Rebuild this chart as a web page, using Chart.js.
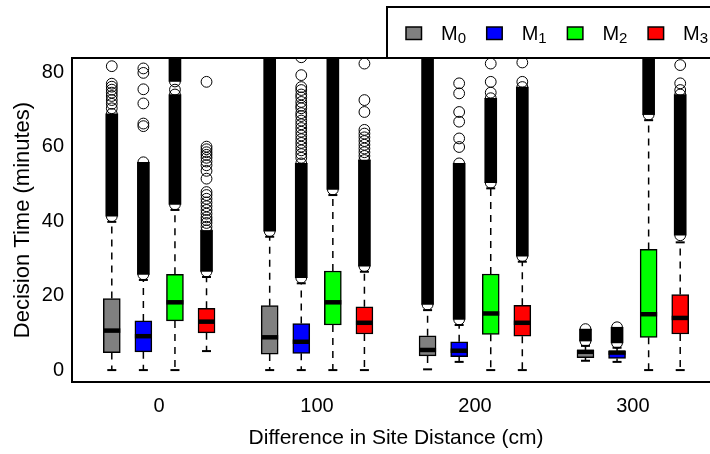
<!DOCTYPE html>
<html>
<head>
<meta charset="utf-8">
<script src="https://cdn.jsdelivr.net/npm/chart.js@4.4.1/dist/chart.umd.min.js"></script>
<style>
  html, body { margin: 0; padding: 0; overflow: hidden; background: #fff; }
  canvas { display: block; }
</style>
</head>
<body>
<canvas id="boxChart" width="730" height="454"></canvas>
<script>
// decision time by site distance difference, one box per model
const groups = ['0', '100', '200', '300'];
const series = ['M0', 'M1', 'M2', 'M3'];
const yTicks = [0, 20, 40, 60, 80];

// [series][group]
const lowWhisker = [[0, 0, 0.2, 2.5], [0, 0, 2.2, 2.2], [0, 0, 0, 0], [5.1, 0, 0, 0]];
const q1 = [[4.7, 4.3, 3.8, 3.3], [4.9, 4.5, 3.6, 3.1], [13.2, 12.1, 9.6, 8.8], [10.0, 9.7, 9.1, 9.7]];
const median = [[10.6, 8.8, 5.4, 4.9], [9.1, 7.6, 5.2, 4.7], [18.2, 18.2, 15.2, 15.0], [13.0, 12.7, 12.7, 14.0]];
const q3 = [[19.2, 17.3, 9.2, 5.4], [13.2, 12.5, 7.6, 5.1], [25.7, 26.6, 25.8, 32.4], [16.6, 17.0, 17.4, 20.3]];
const highWhisker = [[39.8, 35.8, 16.1, 6.5], [24.2, 23.3, 12.1, 6.0], [43.0, 47.0, 48.8, 67.1], [25.0, 26.4, 29.1, 34.3]];

// stretches where the outlier circles pile up into a solid column [from, to]
const denseRuns = [
  [[[41.3, 68.8]], [[37.3, 84]], [[17.6, 84]], [[7.8, 11]]],
  [[[25.7, 55.8]], [[24.8, 55.5]], [[13.6, 55.5]], [[7.3, 11.5]]],
  [[[44.5, 74], [77.5, 84]], [[48.5, 84]], [[50.3, 73]], [[68.6, 84]]],
  [[[26.5, 37.5]], [[27.9, 56.4]], [[30.6, 76]], [[36.2, 74]]]
];

// single outliers outside the solid columns
const outliers = [
  [[70.3, 71.5, 72.5, 73.6, 74.5, 75.3, 76.1, 76.9, 81.6], [], [], []],
  [[65.5, 66.2, 71.6, 75.4, 79.8, 81.0],
   [57, 58, 59, 60, 61, 62, 63, 64, 65, 66, 67, 68.2, 69, 70.3, 71, 72, 73.2, 74, 75.2, 76, 79.2, 84],
   [59.9, 62.2, 66.7, 69.3, 74.3, 77.0], []],
  [[75.3], [], [74.5, 77.4, 82.3], []],
  [[38.5, 39.5, 40.3, 41, 42, 43, 44, 45, 46, 47, 47.8, 51.4, 53.5, 55, 56, 57, 57.8, 58.5, 59.3, 60, 77.4],
   [57.5, 58.5, 59.5, 60.5, 61.5, 62.5, 63.5, 64.5, 69.3, 72.5, 82.3],
   [77.4, 82.6],
   [75.2, 77, 81.9]]
];

const fills = ['#808080', '#0000ff', '#00ff00', '#ff0000'];
const FONT = "'Liberation Sans', Arial, sans-serif";
Chart.defaults.font.family = FONT;
Chart.defaults.color = '#000';

// box position on the x axis: 4 boxes per group, one empty slot between groups
const slot = (s, g) => 1 + g * 5 + s;

const boxSets = series.map((name, s) => ({
  type: 'bar',
  label: name,
  data: groups.map((g, gi) => ({ x: slot(s, gi), y: [q1[s][gi], q3[s][gi]] })),
  backgroundColor: fills[s],
  borderColor: '#000',
  borderWidth: 1.5,
  borderSkipped: false,
  barThickness: 17,
  grouped: false,
  order: 2,
  clip: 0
}));

const runData = [];
const pointData = [];
series.forEach((name, s) => groups.forEach((g, gi) => {
  denseRuns[s][gi].forEach(r => {
    runData.push({ x: slot(s, gi), y: r });
    pointData.push({ x: slot(s, gi), y: r[0] }, { x: slot(s, gi), y: r[1] });
  });
  outliers[s][gi].forEach(v => pointData.push({ x: slot(s, gi), y: v }));
}));

const boxParts = {
  id: 'boxParts',
  beforeDatasetsDraw(chart) {
    const { ctx, chartArea: a, scales: { x, y } } = chart;
    ctx.save();
    ctx.beginPath();
    ctx.rect(a.left, a.top, a.right - a.left, a.bottom - a.top);
    ctx.clip();
    ctx.strokeStyle = '#000';
    series.forEach((name, s) => groups.forEach((g, gi) => {
      const px = x.getPixelForValue(slot(s, gi));
      [[q3[s][gi], highWhisker[s][gi]], [q1[s][gi], lowWhisker[s][gi]]].forEach(([from, to]) => {
        // dashed whisker
        ctx.setLineDash([7, 6]);
        ctx.lineWidth = 1.5;
        ctx.beginPath();
        ctx.moveTo(px, y.getPixelForValue(from));
        ctx.lineTo(px, y.getPixelForValue(to));
        ctx.stroke();
        // staple
        ctx.setLineDash([]);
        ctx.lineWidth = 2;
        ctx.beginPath();
        ctx.moveTo(px - 4.5, y.getPixelForValue(to));
        ctx.lineTo(px + 4.5, y.getPixelForValue(to));
        ctx.stroke();
      });
    }));
    ctx.restore();
  },
  afterDatasetsDraw(chart) {
    const { ctx, chartArea: a, scales: { x, y } } = chart;
    ctx.save();
    ctx.strokeStyle = '#000';
    // medians
    ctx.lineWidth = 4.5;
    series.forEach((name, s) => groups.forEach((g, gi) => {
      const px = x.getPixelForValue(slot(s, gi));
      const py = y.getPixelForValue(median[s][gi]);
      ctx.beginPath();
      ctx.moveTo(px - 8.5, py);
      ctx.lineTo(px + 8.5, py);
      ctx.stroke();
    }));
    // plot frame
    ctx.lineWidth = 2;
    ctx.strokeRect(a.left, a.top, a.right - a.left, a.bottom - a.top);
    // legend
    ctx.strokeRect(387, 7, 400, 51);
    series.forEach((name, s) => {
      const lx = 406 + s * 80.7;
      ctx.fillStyle = fills[s];
      ctx.fillRect(lx, 27, 15.5, 12.5);
      ctx.lineWidth = 1.5;
      ctx.strokeRect(lx, 27, 15.5, 12.5);
      ctx.fillStyle = '#000';
      ctx.textAlign = 'left';
      ctx.textBaseline = 'alphabetic';
      ctx.font = '20px ' + FONT;
      ctx.fillText(name[0], lx + 35, 39.5);
      const w = ctx.measureText(name[0]).width;
      ctx.font = '15px ' + FONT;
      ctx.fillText(name.slice(1), lx + 35 + w, 43);
    });
    ctx.restore();
  }
};

new Chart(document.getElementById('boxChart'), {
  type: 'bar',
  data: {
    datasets: [
      ...boxSets,
      {
        type: 'bar',
        label: 'dense',
        data: runData,
        backgroundColor: '#000',
        borderWidth: 0,
        barThickness: 12,
        grouped: false,
        order: 1,
        clip: 0
      },
      {
        type: 'scatter',
        label: 'outliers',
        data: pointData,
        pointStyle: 'circle',
        pointRadius: 5.4,
        pointBorderWidth: 1,
        pointBorderColor: '#000',
        pointBackgroundColor: 'rgba(0,0,0,0)',
        borderColor: '#000',
        backgroundColor: 'rgba(0,0,0,0)',
        order: 0,
        clip: 0
      }
    ]
  },
  options: {
    responsive: false,
    animation: false,
    events: [],
    layout: { padding: { top: 58, right: 10, left: 0, bottom: 0 } },
    plugins: { legend: { display: false }, tooltip: { enabled: false } },
    scales: {
      x: {
        type: 'linear',
        min: -0.26,
        max: 20.26,
        offset: false,
        grid: { display: false, drawTicks: false },
        border: { display: false },
        afterBuildTicks: axis => { axis.ticks = groups.map((g, gi) => ({ value: slot(1.5, gi) })); },
        afterFit: axis => { axis.height = 72; },
        ticks: {
          autoSkip: false,
          maxRotation: 0,
          padding: 12,
          font: { size: 20 },
          callback: (v, i) => groups[i]
        },
        title: {
          display: true,
          text: 'Difference in Site Distance (cm)',
          font: { size: 21 },
          padding: { top: 0, bottom: 3 }
        }
      },
      y: {
        min: -3.2,
        max: 83.8,
        grid: { display: false, drawTicks: false },
        border: { display: false },
        afterBuildTicks: axis => { axis.ticks = yTicks.map(v => ({ value: v })); },
        afterFit: axis => { axis.width = 72; },
        ticks: { padding: 8, font: { size: 20 } },
        title: {
          display: true,
          text: 'Decision Time (minutes)',
          font: { size: 22 },
          padding: { top: 10, bottom: 0 }
        }
      }
    }
  },
  plugins: [boxParts]
});
</script>
</body>
</html>
